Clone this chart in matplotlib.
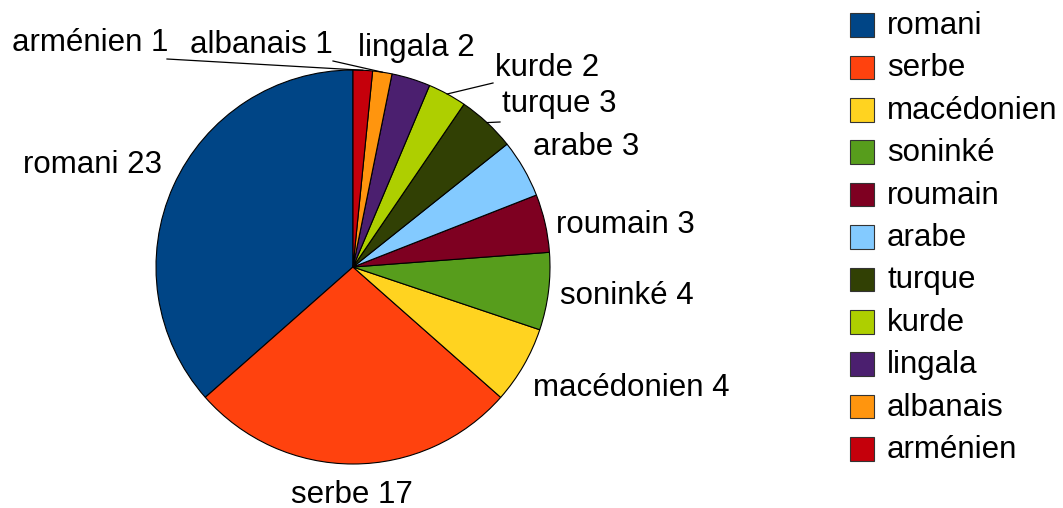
import numpy as np
import matplotlib.pyplot as plt
from matplotlib.patches import Rectangle

plt.rcParams['font.family'] = ['Liberation Sans', 'DejaVu Sans']

langues = ['romani', 'serbe', 'macédonien', 'soninké', 'roumain', 'arabe',
           'turque', 'kurde', 'lingala', 'albanais', 'arménien']
eleves = [23, 17, 4, 4, 3, 3, 3, 2, 2, 1, 1]
couleurs = ['#004586', '#ff420e', '#ffd320', '#579d1c', '#7e0021', '#83caff',
            '#314004', '#aecf00', '#4b1f6f', '#ff950e', '#c5000b']

W, H = 1063, 508
cx, cy, R = 353, H - 267, 197
fs = 22.5

# label anchors in pixels (from top), alignment
lab_pos = [(162, 165, 'right'), (352, 495, 'center'), (533, 388, 'left'),
           (560, 296, 'left'), (556, 225, 'left'), (533, 147, 'left'),
           (502, 104, 'left'), (495, 68, 'left'), (358, 48, 'left'),
           (190, 45, 'left'), (12, 43, 'left')]
# end of leader line near the text (pixels from top), None = no line
leader = [None, None, None, None, None, None,
          (500, 122), (493, 83), None, (333, 61), (167, 59)]

fig = plt.figure(figsize=(W / 100, H / 100), dpi=100)
ax = fig.add_axes([0, 0, 1, 1])

wedges, _ = ax.pie(eleves, colors=couleurs, startangle=90, counterclock=True,
                   center=(cx, cy), radius=R, frame=True,
                   wedgeprops=dict(edgecolor='black', linewidth=0.8))
ax.set_xlim(0, W)
ax.set_ylim(0, H)
ax.set_aspect('equal')
ax.axis('off')

for w, nom, n, (x, y, ha), ld in zip(wedges, langues, eleves, lab_pos, leader):
    ax.text(x, H - y, f'{nom} {n}', fontsize=fs, ha=ha, va='center')
    if ld is not None:
        a = np.deg2rad((w.theta1 + w.theta2) / 2)
        ax.plot([cx + R * np.cos(a), ld[0]], [cy + R * np.sin(a), H - ld[1]],
                color='black', linewidth=0.9)

# legend drawn by hand
lx, ly0, pas, cote = 850, 25, 42.4, 23.5
for i, (nom, c) in enumerate(zip(langues, couleurs)):
    yc = H - (ly0 + i * pas)
    ax.add_patch(Rectangle((lx, yc - cote / 2), cote, cote, facecolor=c,
                           edgecolor='#333333', linewidth=0.8))
    ax.text(887, yc - 1, nom, fontsize=fs, ha='left', va='center')

fig.savefig('out.png', dpi=100)
